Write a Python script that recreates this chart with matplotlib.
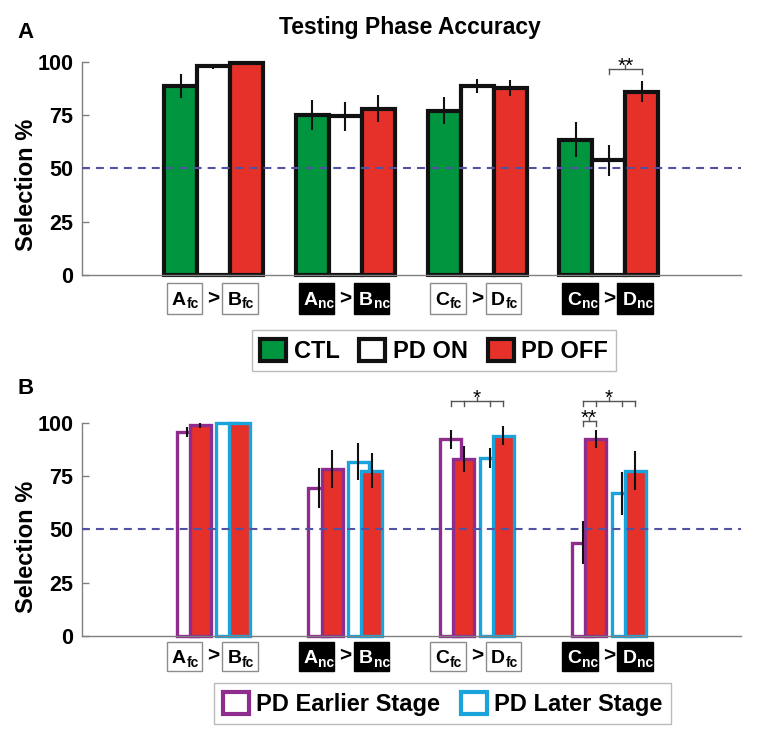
import matplotlib
matplotlib.use('Agg')
import matplotlib.pyplot as plt
from matplotlib.patches import Rectangle, Patch
from matplotlib.transforms import blended_transform_factory

plt.rcParams['font.family'] = ['Liberation Sans', 'DejaVu Sans']
plt.rcParams['font.weight'] = 'bold'

# group positions and the boxed pair labels under each group
groups = [1, 2, 3, 4]
left_letter = ['A', 'A', 'C', 'C']
right_letter = ['B', 'B', 'D', 'D']
pair_sub = ['fc', 'nc', 'fc', 'nc']

# panel A: CTL / PD ON / PD OFF
ctl_mean = [88.6, 75.1, 77.0, 63.5]
ctl_err = [5.5, 7.0, 6.3, 8.0]
on_mean = [97.8, 74.3, 88.6, 53.8]
on_err = [1.3, 6.6, 3.3, 7.3]
off_mean = [99.5, 78.0, 87.8, 86.0]
off_err = [0.0, 6.3, 3.7, 4.7]
legend_a = ['CTL', 'PD ON', 'PD OFF']

# panel B: earlier / later stage, each ON (white) and OFF (red)
early_on = [95.8, 69.2, 92.3, 43.8]
early_on_err = [2.3, 9.4, 4.5, 10.0]
early_off = [98.9, 78.3, 83.0, 92.2]
early_off_err = [1.4, 9.0, 5.9, 4.2]
later_on = [100.0, 81.7, 83.4, 66.9]
later_on_err = [0.0, 8.7, 4.7, 10.0]
later_off = [100.0, 77.5, 93.9, 77.5]
later_off_err = [0.0, 8.3, 4.5, 9.0]
legend_b = ['PD Earlier Stage', 'PD Later Stage']

# significance brackets: tick x positions, bracket height, label
sig_a = [([4.0, 4.25], 96.7, '**')]
sig_b = [([2.8, 2.9, 3.1, 3.2], 110.3, '*'),
         ([3.8, 3.9, 4.1, 4.2], 110.3, '*'),
         ([3.8, 3.9], 100.9, '**')]

GREEN = '#00963f'
RED = '#e5312a'
PURPLE = '#8e2d8e'
CYAN = '#1ba3dc'
CHANCE = '#5252a3'
GREY = '#808080'
AX_H_PX = 213.3


def style_axis(ax):
    ax.set_xlim(0, 5)
    ax.set_ylim(0, 100)
    ax.set_yticks([0, 25, 50, 75, 100])
    ax.set_xticks([])
    for s in ['top', 'right']:
        ax.spines[s].set_visible(False)
    for s in ['left', 'bottom']:
        ax.spines[s].set_color(GREY)
        ax.spines[s].set_linewidth(1)
    ax.tick_params(axis='y', direction='in', length=5, width=1, color=GREY,
                   pad=6, labelsize=15.5)
    ax.set_ylabel('Selection %', fontsize=17, fontweight='bold')
    ax.yaxis.set_label_coords(-0.066, 0.42)
    ax.axhline(50, color=CHANCE, lw=1.5, ls=(0, (3.8, 2.9)), zorder=4)


def pair_labels(ax, top_px, box_px):
    tr = blended_transform_factory(ax.transData, ax.transAxes)
    for g, l, r, sub in zip(groups, left_letter, right_letter, pair_sub):
        dark = sub == 'nc'
        fc = 'black' if dark else 'white'
        ec = 'black' if dark else '#8c8c8c'
        tc = 'white' if dark else 'black'
        for off, letter in [(-0.22, l), (0.2, r)]:
            x = g + off
            ax.add_patch(Rectangle((x - 0.135, -(top_px + box_px) / AX_H_PX),
                                   0.27, box_px / AX_H_PX, transform=tr,
                                   facecolor=fc, edgecolor=ec, lw=1,
                                   clip_on=False))
            ax.text(x + 0.012, -(top_px + 21.5) / AX_H_PX, letter, ha='right',
                    va='baseline', fontsize=14, color=tc, transform=tr)
            ax.text(x + 0.015, -(top_px + 25) / AX_H_PX, sub, ha='left',
                    va='baseline', fontsize=10, color=tc, transform=tr)
        ax.text(g, -(top_px + box_px / 2) / AX_H_PX, '>', ha='center',
                va='center', fontsize=15, transform=tr)


def brackets(ax, sigs):
    for xs, y, label in sigs:
        kw = dict(color='#555555', lw=1, clip_on=False, zorder=6)
        ax.plot([xs[0], xs[-1]], [y, y], **kw)
        for x in xs:
            ax.plot([x, x], [y, y - 2.4], **kw)
        xm = (xs[0] + xs[-1]) / 2
        ax.plot([xm, xm], [y, y + 1.6], **kw)
        ax.text(xm, y - 1.5, label, ha='center', va='baseline', fontsize=15,
                fontweight='normal', clip_on=False)


fig = plt.figure(figsize=(7.65, 7.48), dpi=100)
axA = fig.add_axes([0.1068, 0.6324, 0.8614, 0.2852])
axB = fig.add_axes([0.1068, 0.1497, 0.8614, 0.2852])

# ---- panel A
style_axis(axA)
w = 0.25
for off, mean, err, col in [(-w, ctl_mean, ctl_err, GREEN),
                            (0, on_mean, on_err, 'white'),
                            (w, off_mean, off_err, RED)]:
    xs = [g + off for g in groups]
    axA.bar(xs, mean, w, color=col, edgecolor='#111111', lw=3, zorder=2,
            clip_on=False)
    axA.errorbar(xs, mean, yerr=err, fmt='none', ecolor='#111111',
                 elinewidth=1.5, capsize=0, zorder=5)
pair_labels(axA, 8.3, 31)
brackets(axA, sig_a)
handles = [Patch(facecolor=c, edgecolor='#111111', lw=3)
           for c in [GREEN, 'white', RED]]
leg = axA.legend(handles, legend_a, loc='center', ncol=3,
                 bbox_to_anchor=(0.5673, 0.5311), bbox_transform=fig.transFigure,
                 frameon=True, fancybox=False, edgecolor='#aaaaaa', fontsize=17,
                 handlelength=1.1, handleheight=1.1, handletextpad=0.3,
                 columnspacing=0.85, borderpad=0.35)
leg.get_frame().set_linewidth(1)

# ---- panel B
style_axis(axB)
wb = 0.16
for off, mean, err, face, edge in [(-0.2, early_on, early_on_err, 'white', PURPLE),
                                   (-0.1, early_off, early_off_err, RED, PURPLE),
                                   (0.1, later_on, later_on_err, 'white', CYAN),
                                   (0.2, later_off, later_off_err, RED, CYAN)]:
    xs = [g + off for g in groups]
    axB.bar(xs, mean, wb, color=face, edgecolor=edge, lw=2.4, zorder=2,
            clip_on=False)
    axB.errorbar(xs, mean, yerr=err, fmt='none', ecolor='#111111',
                 elinewidth=1.5, capsize=0, zorder=5)
pair_labels(axB, 5.7, 29)
brackets(axB, sig_b)
handles = [Patch(facecolor='white', edgecolor=c, lw=3) for c in [PURPLE, CYAN]]
leg = axB.legend(handles, legend_b, loc='center', ncol=2,
                 bbox_to_anchor=(0.5786, 0.0591), bbox_transform=fig.transFigure,
                 frameon=True, fancybox=False, edgecolor='#aaaaaa', fontsize=17,
                 handlelength=1.1, handleheight=1.1, handletextpad=0.3,
                 columnspacing=0.9, borderpad=0.35)
leg.get_frame().set_linewidth(1)

fig.text(0.536, 0.963, 'Testing Phase Accuracy', ha='center', va='center',
         fontsize=16.5, fontweight='bold')
fig.text(26 / 765, 1 - 32 / 748, 'A', ha='center', va='center', fontsize=16,
         fontweight='bold')
fig.text(26 / 765, 1 - 389 / 748, 'B', ha='center', va='center', fontsize=16,
         fontweight='bold')

fig.savefig('out.png', dpi=100)
